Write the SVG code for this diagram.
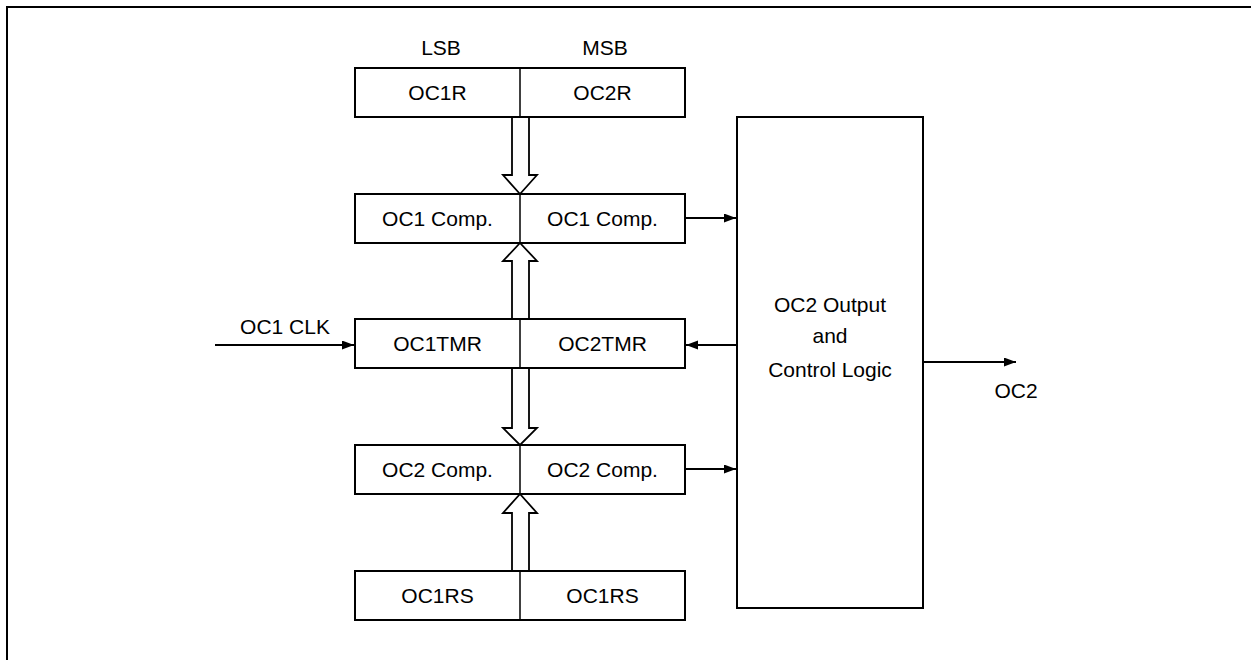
<svg xmlns="http://www.w3.org/2000/svg" width="1251" height="660" viewBox="0 0 1251 660">
<defs>
<style>
.box{fill:#fff;stroke:#000;stroke-width:2}
.div{stroke:#000;stroke-width:1.5}
.t{font-family:"Liberation Sans",Arial,sans-serif;font-size:21px;fill:#000;text-anchor:middle}
.w{fill:none;stroke:#000;stroke-width:2}
.bus{fill:#fff;stroke:#000;stroke-width:1.8;stroke-linejoin:miter}
.frame{fill:none;stroke:#000;stroke-width:2}
</style>
<marker id="ah" markerUnits="userSpaceOnUse" markerWidth="13" markerHeight="10" refX="12" refY="4.5" orient="auto">
<path d="M0,0 L12,4.5 L0,9 z" fill="#000"/>
</marker>
</defs>
<rect width="1251" height="660" fill="#fff"/>
<path class="frame" d="M7 662 V7 H1253"/>

<g id="labels">
<text class="t" x="441" y="55">LSB</text>
<text class="t" x="605" y="55">MSB</text>
</g>

<g id="connectors">
<path class="bus" d="M512 117 V175 H503 L520 194 L537 175 H529 V117"/>
<path class="bus" d="M512 319 V261 H503 L520 243 L537 261 H529 V319"/>
<path class="bus" d="M512 368 V428 H503 L520 445 L537 428 H529 V368"/>
<path class="bus" d="M512 573 V513 H503 L520 494 L537 513 H529 V573"/>
<line class="w" x1="215" y1="345" x2="354" y2="345" marker-end="url(#ah)"/>
<line class="w" x1="685" y1="218" x2="736" y2="218" marker-end="url(#ah)"/>
<line class="w" x1="737" y1="345" x2="686" y2="345" marker-end="url(#ah)"/>
<line class="w" x1="685" y1="469" x2="736" y2="469" marker-end="url(#ah)"/>
<line class="w" x1="923" y1="362" x2="1016" y2="362" marker-end="url(#ah)"/>
<text class="t" x="285" y="334">OC1 CLK</text>
<text class="t" x="1016" y="398">OC2</text>
</g>

<g id="reg-ocr">
<rect class="box" x="355" y="68" width="330" height="49"/>
<line class="div" x1="520" y1="68" x2="520" y2="117"/>
<text class="t" x="437.5" y="100">OC1R</text>
<text class="t" x="602.5" y="100">OC2R</text>
</g>

<g id="reg-oc1comp">
<rect class="box" x="355" y="194" width="330" height="49"/>
<line class="div" x1="520" y1="194" x2="520" y2="243"/>
<text class="t" x="437.5" y="226">OC1 Comp.</text>
<text class="t" x="602.5" y="226">OC1 Comp.</text>
</g>

<g id="reg-tmr">
<rect class="box" x="355" y="319" width="330" height="49"/>
<line class="div" x1="520" y1="319" x2="520" y2="368"/>
<text class="t" x="437.5" y="351">OC1TMR</text>
<text class="t" x="602.5" y="351">OC2TMR</text>
</g>

<g id="reg-oc2comp">
<rect class="box" x="355" y="445" width="330" height="49"/>
<line class="div" x1="520" y1="445" x2="520" y2="494"/>
<text class="t" x="437.5" y="477">OC2 Comp.</text>
<text class="t" x="602.5" y="477">OC2 Comp.</text>
</g>

<g id="reg-ocrs">
<rect class="box" x="355" y="571" width="330" height="49"/>
<line class="div" x1="520" y1="571" x2="520" y2="620"/>
<text class="t" x="437.5" y="603">OC1RS</text>
<text class="t" x="602.5" y="603">OC1RS</text>
</g>

<g id="control-logic">
<rect class="box" x="737" y="117" width="186" height="491"/>
<text class="t" x="830" y="312">OC2 Output</text>
<text class="t" x="830" y="343">and</text>
<text class="t" x="830" y="377">Control Logic</text>
</g>
</svg>
